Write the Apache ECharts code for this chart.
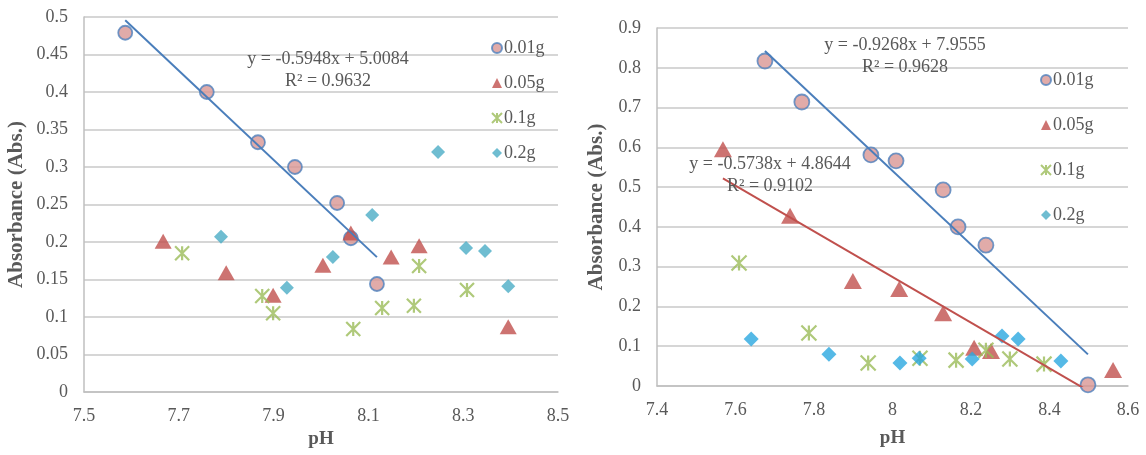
<!DOCTYPE html>
<html>
<head>
<meta charset="utf-8">
<script src="https://cdn.jsdelivr.net/npm/echarts@6/dist/echarts.min.js"></script>
<style>
  html, body { margin: 0; padding: 0; background: #fff; }
  #chart { width: 1146px; height: 455px; }
</style>
</head>
<body>
<div id="chart"></div>
<script>
// Absorbance versus pH for four adsorbent doses (two experiments)
const seriesNames = ['0.01g', '0.05g', '0.1g', '0.2g'];

// Left panel
const phL01 = [7.587, 7.759, 7.867, 7.945, 8.034, 8.063, 8.118];
const absL01 = [0.479, 0.400, 0.333, 0.300, 0.252, 0.205, 0.144];
const phL05 = [7.667, 7.800, 7.899, 8.004, 8.063, 8.148, 8.207, 8.395];
const absL05 = [0.201, 0.159, 0.129, 0.169, 0.212, 0.180, 0.195, 0.087];
const phL1 = [7.707, 7.876, 7.899, 8.068, 8.129, 8.196, 8.207, 8.308];
const absL1 = [0.185, 0.128, 0.105, 0.084, 0.112, 0.115, 0.168, 0.136];
const phL2 = [7.789, 7.928, 8.025, 8.108, 8.247, 8.306, 8.346, 8.395];
const absL2 = [0.207, 0.139, 0.180, 0.236, 0.320, 0.192, 0.188, 0.141];

// Right panel
const phR01 = [7.675, 7.769, 7.945, 8.009, 8.129, 8.167, 8.238, 8.498];
const absR01 = [0.817, 0.714, 0.581, 0.566, 0.493, 0.400, 0.354, 0.003];
const phR05 = [7.568, 7.739, 7.899, 8.017, 8.129, 8.208, 8.251, 8.562];
const absR05 = [0.595, 0.428, 0.264, 0.244, 0.183, 0.096, 0.088, 0.040];
const phR1 = [7.609, 7.787, 7.938, 8.070, 8.162, 8.238, 8.299, 8.386];
const absR1 = [0.309, 0.133, 0.058, 0.070, 0.065, 0.090, 0.068, 0.055];
const phR2 = [7.640, 7.838, 8.019, 8.068, 8.203, 8.279, 8.320, 8.429];
const absR2 = [0.118, 0.080, 0.058, 0.070, 0.068, 0.126, 0.118, 0.063];

// Linear trend lines: [slope, intercept]
const fitL01 = [-0.5948, 5.0084];
const fitR01 = [-0.9268, 7.9555];
const fitR05 = [-0.5738, 4.8644];
const eqL01 = ['y = -0.5948x + 5.0084', 'R² = 0.9632'];
const eqR01 = ['y = -0.9268x + 7.9555', 'R² = 0.9628'];
const eqR05 = ['y = -0.5738x + 4.8644', 'R² = 0.9102'];

// Axis settings
const xTicksL = { min: 7.5, max: 8.5, interval: 0.2 };
const xTicksR = { min: 7.4, max: 8.6, interval: 0.2 };
const yTicksL = { min: 0, max: 0.5, interval: 0.05 };
const yTicksR = { min: 0, max: 0.9, interval: 0.1 };
const xTitle = 'pH';
const yTitle = 'Absorbance (Abs.)';

const FONT = '"Liberation Serif", "DejaVu Serif", serif';
const TEXT = '#595959';
const C_CIRCLE = '#D99694', C_CIRCLE_EDGE = '#4F81BD';
const C_TRI = '#C0504D', C_STAR = '#9BBB59';
const C_DIA_L = '#4BACC6', C_DIA_R = '#2AA8E0';
const C_FIT_BLUE = '#4A7EBB', C_FIT_RED = '#C0504D';
const STAR = 'path://M0,0 L20,20 M0,20 L20,0 M10,0 L10,20';

const pairs = (xs, ys) => xs.map((x, i) => [x, ys[i]]);
const fitLine = (fit, xs) => {
  const lo = Math.min(...xs), hi = Math.max(...xs);
  return [[lo, fit[0] * lo + fit[1]], [hi, fit[0] * hi + fit[1]]];
};

function xAxis(idx, t, gap) {
  return {
    type: 'value', gridIndex: idx, min: t.min, max: t.max, interval: t.interval,
    name: xTitle, nameLocation: 'middle', nameGap: gap,
    nameTextStyle: { fontFamily: FONT, fontSize: 19, fontWeight: 'bold', color: TEXT },
    axisLine: { show: true, lineStyle: { color: '#BFBFBF', width: 1.5 } },
    axisTick: { show: false },
    splitLine: { show: false },
    axisLabel: {
      fontFamily: FONT, fontSize: 18, color: TEXT, margin: 15,
      formatter: v => { const r = Math.round(v * 10) / 10; return String(r); }
    }
  };
}
function yAxis(idx, t, gap) {
  return {
    type: 'value', gridIndex: idx, min: t.min, max: t.max, interval: t.interval,
    name: yTitle, nameLocation: 'middle', nameGap: gap, nameRotate: 90,
    nameTextStyle: { fontFamily: FONT, fontSize: 21, fontWeight: 'bold', color: TEXT },
    axisLine: { show: true, lineStyle: { color: '#BFBFBF', width: 1.5 } },
    axisTick: { show: false },
    splitLine: { show: true, lineStyle: { color: '#D6D6D6', width: 1.8 } },
    axisLabel: {
      fontFamily: FONT, fontSize: 18, color: TEXT, margin: 16,
      formatter: v => { const r = Math.round(v * 100) / 100; return String(r); }
    }
  };
}

function scatterSet(idx, sets, diaColor, size) {
  const styles = [
    { symbol: 'circle', symbolSize: size, itemStyle: { color: C_CIRCLE, borderColor: C_CIRCLE_EDGE, borderWidth: 1.8 } },
    { symbol: 'triangle', symbolSize: [size + 3, size + 1], itemStyle: { color: C_TRI } },
    { symbol: STAR, symbolSize: size, itemStyle: { color: C_STAR, borderColor: C_STAR, borderWidth: 2.2 } },
    { symbol: 'diamond', symbolSize: [size, size], itemStyle: { color: diaColor } }
  ];
  return sets.map((d, i) => Object.assign({
    type: 'scatter', name: seriesNames[i], xAxisIndex: idx, yAxisIndex: idx,
    data: d, z: 3, emphasis: { disabled: true }
  }, styles[i]));
}
function trend(idx, data, color) {
  return {
    type: 'line', xAxisIndex: idx, yAxisIndex: idx, data: data, clip: true,
    symbol: 'none', silent: true, z: 4,
    lineStyle: { color: color, width: 2 }
  };
}
function eqText(lines, cx, y) {
  return lines.map((s, i) => ({
    type: 'text', x: cx, y: y + i * 22, z: 10, silent: true,
    style: { text: s, fontFamily: FONT, fontSize: 18, fill: TEXT, align: 'center', verticalAlign: 'middle' }
  }));
}
function legendAt(left, top, gap) {
  return {
    orient: 'vertical', left: left, top: top, itemGap: gap, itemWidth: 10, itemHeight: 10,
    data: seriesNames, selectedMode: false,
    textStyle: { fontFamily: FONT, fontSize: 18, color: TEXT, padding: [0, 0, 0, -3] }
  };
}

const chart = echarts.init(document.getElementById('chart'), null, { renderer: 'canvas' });
chart.setOption({
  animation: false,
  backgroundColor: '#ffffff',
  grid: [
    { left: 84, top: 17, width: 474, height: 375 },
    { left: 657, top: 28, width: 471, height: 358 }
  ],
  xAxis: [xAxis(0, xTicksL, 37), xAxis(1, xTicksR, 43)],
  yAxis: [yAxis(0, yTicksL, 57), yAxis(1, yTicksR, 50)],
  legend: [legendAt(486, 34, 17), legendAt(1035, 66, 27)],
  series: [
    ...scatterSet(0, [pairs(phL01, absL01), pairs(phL05, absL05), pairs(phL1, absL1), pairs(phL2, absL2)], C_DIA_L, 14),
    ...scatterSet(1, [pairs(phR01, absR01), pairs(phR05, absR05), pairs(phR1, absR1), pairs(phR2, absR2)], C_DIA_R, 15),
    trend(0, fitLine(fitL01, phL01), C_FIT_BLUE),
    trend(1, fitLine(fitR01, phR01), C_FIT_BLUE),
    trend(1, fitLine(fitR05, phR05), C_FIT_RED)
  ],
  graphic: [
    ...eqText(eqL01, 328, 59),
    ...eqText(eqR01, 905, 45),
    ...eqText(eqR05, 770, 164)
  ]
});
</script>
</body>
</html>
